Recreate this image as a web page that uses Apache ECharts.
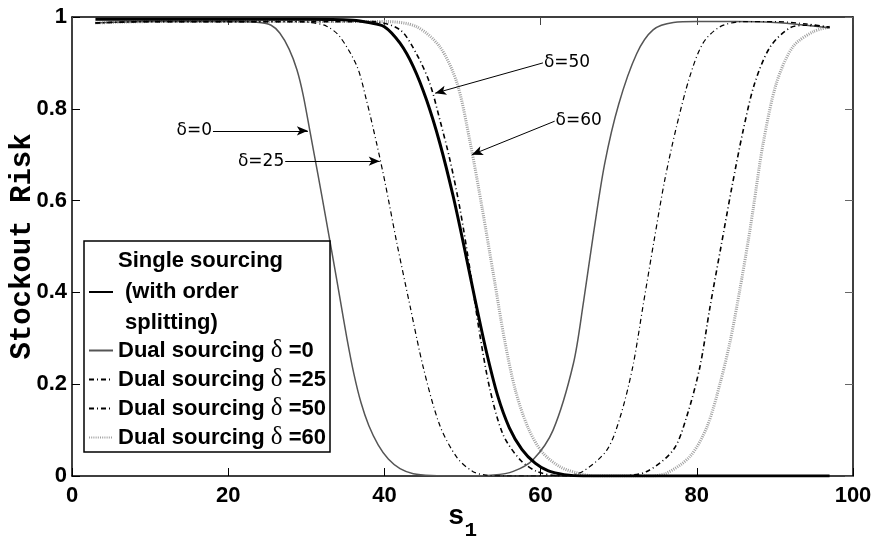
<!DOCTYPE html>
<html>
<head>
<meta charset="utf-8">
<script src="https://cdn.jsdelivr.net/npm/echarts@6/dist/echarts.min.js"></script>
<style>
  html, body { margin: 0; padding: 0; background: #fff; }
  #chart { width: 876px; height: 536px; }
</style>
</head>
<body>
<div id="chart"></div>
<script>
// Stockout risk versus reorder level s1

const xTicks = [0, 20, 40, 60, 80, 100];
const yTicks = [0, 0.2, 0.4, 0.6, 0.8, 1];

// Single sourcing (with order splitting)
const singleX = [3, 10, 20, 30, 36, 38, 40, 42, 43.7, 45.4, 47.1, 48.8, 50.2, 51.6, 53, 54.5, 56, 57.6, 59.3, 61, 63, 65.5, 75, 85, 97];
const singleY = [0.995, 0.995, 0.995, 0.995, 0.993, 0.988, 0.979, 0.943, 0.892, 0.819, 0.725, 0.61, 0.5, 0.385, 0.275, 0.175, 0.105, 0.058, 0.028, 0.011, 0.003, 0, 0, 0, 0];

// Dual sourcing, delta = 0
const d0X = [3, 10, 20, 24, 25.5, 26.6, 27.8, 28.8, 29.6, 30.5, 31.5, 32.5, 33.4, 34.3, 35.2, 36.1, 37, 38, 39.2, 40.5, 42, 43.7, 46, 50, 54, 56.5, 59, 61.6, 64.2, 65.5, 66.7, 68.2, 70, 72.3, 74.4, 77, 80, 85, 90, 94, 97];
const d0Y = [0.987, 0.99, 0.99, 0.988, 0.982, 0.965, 0.93, 0.885, 0.83, 0.748, 0.656, 0.562, 0.476, 0.388, 0.3, 0.222, 0.16, 0.11, 0.068, 0.037, 0.016, 0.005, 0.001, 0, 0.002, 0.01, 0.035, 0.1, 0.245, 0.38, 0.52, 0.68, 0.81, 0.92, 0.972, 0.988, 0.99, 0.99, 0.988, 0.982, 0.976];

// Dual sourcing, delta = 25
const d25X = [3, 10, 20, 28, 30.5, 32.6, 34.3, 36.5, 37.7, 39, 40.1, 41.6, 43.3, 45, 47.1, 49.3, 51.3, 53, 56, 60, 63, 65.4, 68.5, 70.2, 71.8, 73.1, 74.5, 75.9, 77.4, 79.1, 80.8, 83, 86, 90, 94, 97];
const d25Y = [0.987, 0.99, 0.99, 0.99, 0.988, 0.98, 0.957, 0.892, 0.819, 0.725, 0.638, 0.507, 0.369, 0.235, 0.11, 0.04, 0.01, 0.002, 0, 0, 0.001, 0.01, 0.057, 0.129, 0.238, 0.369, 0.51, 0.645, 0.761, 0.87, 0.943, 0.979, 0.99, 0.99, 0.985, 0.978];

// Dual sourcing, delta = 50
const d50X = [3, 10, 20, 30, 36, 38.5, 42, 44.1, 45.8, 47.1, 48.4, 49.7, 51, 52.2, 53.5, 55.2, 57.4, 59.5, 62, 66, 70, 73.6, 77, 78.7, 80.4, 81.7, 83.1, 84.5, 85.9, 87.4, 89.4, 91.9, 94, 97];
const d50Y = [0.987, 0.99, 0.99, 0.99, 0.99, 0.99, 0.972, 0.92, 0.856, 0.776, 0.688, 0.58, 0.445, 0.31, 0.19, 0.09, 0.035, 0.01, 0.001, 0, 0, 0.01, 0.057, 0.129, 0.238, 0.369, 0.5, 0.63, 0.75, 0.855, 0.935, 0.976, 0.982, 0.978];

// Dual sourcing, delta = 60
const d60X = [3, 10, 20, 30, 38, 40.3, 44.1, 47.1, 49.3, 51, 52.5, 54, 55.4, 56.8, 58.4, 60.2, 62.5, 65, 67, 70, 74, 76.1, 79.1, 81.3, 83, 84.3, 85.5, 86.6, 87.2, 88.5, 90.2, 92.3, 94.9, 97];
const d60Y = [0.987, 0.99, 0.99, 0.99, 0.99, 0.99, 0.979, 0.935, 0.856, 0.725, 0.585, 0.435, 0.295, 0.185, 0.105, 0.052, 0.02, 0.005, 0, 0, 0, 0.006, 0.042, 0.107, 0.203, 0.296, 0.405, 0.514, 0.58, 0.725, 0.856, 0.935, 0.968, 0.978];

// Arrow annotations: label, tail (label side) and head, in data coordinates
const annLabels = ['δ=0', 'δ=25', 'δ=50', 'δ=60'];
const annFrom = [[18.05, 0.752], [27.3, 0.686], [60.3, 0.9], [61.8, 0.773]];
const annTo = [[30.2, 0.752], [39.4, 0.686], [46.5, 0.834], [51.2, 0.70]];

const seriesNames = [
  'Single sourcing (with order splitting)',
  'Dual sourcing δ =0',
  'Dual sourcing δ =25',
  'Dual sourcing δ =50',
  'Dual sourcing δ =60'
];

const pairs = (xs, ys) => xs.map((x, i) => [x, ys[i]]);

const sansBold = { fontFamily: 'Liberation Sans', fontWeight: 'bold', color: '#000' };

function legendText(name) {
  if (name.indexOf('Single') === 0) {
    return '{a|Single sourcing}\n{b|(with order}\n{b|splitting)}';
  }
  const parts = name.split('δ');
  return '{a|' + parts[0] + '}{d|δ}{a|' + parts[1] + '}';
}

function lineSeries(name, data, style, z) {
  return {
    name: name,
    type: 'line',
    data: data,
    symbol: 'none',
    smooth: 0.3,
    lineStyle: style,
    itemStyle: { color: style.color },
    z: z,
    silent: true,
    animation: false
  };
}

const chart = echarts.init(document.getElementById('chart'), null, { renderer: 'canvas' });

const axisCommon = {
  type: 'value',
  splitLine: { show: false },
  axisLine: { show: true, onZero: false, lineStyle: { color: '#000', width: 1.5 } },
  axisTick: { show: true, inside: true, length: 8, lineStyle: { color: '#000', width: 1 } }
};

chart.setOption({
  backgroundColor: '#fff',
  animation: false,
  grid: { left: 72, right: 23, top: 17, bottom: 60, containLabel: false, outerBoundsMode: 'none' },
  xAxis: [
    Object.assign({}, axisCommon, {
      position: 'bottom', min: xTicks[0], max: xTicks[xTicks.length - 1], interval: xTicks[1] - xTicks[0],
      axisLabel: Object.assign({ fontSize: 22, margin: 9 }, sansBold),
      name: '{s|s}{sub|1}',
      nameLocation: 'middle',
      nameGap: 16,
      nameMoveOverlap: false,
      nameTextStyle: {
        rich: {
          s: { fontFamily: 'Liberation Mono', fontWeight: 'bold', fontSize: 28, color: '#000' },
          sub: { fontFamily: 'Liberation Mono', fontWeight: 'bold', fontSize: 21, color: '#000', padding: [28, 0, 0, 0] }
        }
      }
    }),
    Object.assign({}, axisCommon, {
      position: 'top', min: xTicks[0], max: xTicks[xTicks.length - 1], interval: xTicks[1] - xTicks[0],
      axisLabel: { show: false },
      axisTick: { show: true, inside: true, length: 8, lineStyle: { color: '#444', width: 1 } }
    })
  ],
  yAxis: [
    Object.assign({}, axisCommon, {
      position: 'left', min: yTicks[0], max: yTicks[yTicks.length - 1], interval: yTicks[1] - yTicks[0],
      axisLabel: Object.assign({ fontSize: 22, margin: 5 }, sansBold),
      name: 'Stockout Risk',
      nameLocation: 'middle',
      nameRotate: 90,
      nameGap: 35,
      nameMoveOverlap: false,
      nameTextStyle: { fontFamily: 'Liberation Mono', fontWeight: 'bold', fontSize: 29, color: '#000' }
    }),
    Object.assign({}, axisCommon, {
      position: 'right', min: yTicks[0], max: yTicks[yTicks.length - 1], interval: yTicks[1] - yTicks[0],
      axisLabel: { show: false },
      axisTick: { show: true, inside: true, length: 8, lineStyle: { color: '#666', width: 1 } }
    })
  ],
  legend: {
    data: seriesNames,
    orient: 'vertical',
    left: 84,
    top: 241,
    itemWidth: 24,
    itemHeight: 14,
    itemGap: 4,
    padding: [9, 4, 2, 4],
    borderColor: '#000',
    borderWidth: 1.5,
    backgroundColor: '#fff',
    selectedMode: false,
    itemStyle: { color: 'rgba(0,0,0,0)', borderWidth: 0, opacity: 0 },
    formatter: legendText,
    textStyle: {
      rich: {
        a: { fontFamily: 'Liberation Sans', fontWeight: 'bold', fontSize: 22, color: '#000', lineHeight: 31 },
        b: { fontFamily: 'Liberation Sans', fontWeight: 'bold', fontSize: 22, color: '#000', lineHeight: 31, padding: [0, 0, 0, 7] },
        d: { fontFamily: 'Liberation Serif', fontSize: 25, color: '#000', lineHeight: 31 }
      }
    }
  },
  series: [
    lineSeries(seriesNames[4], pairs(d60X, d60Y), { color: '#a0a0a0', width: 3, type: [1, 1.2] }, 2),
    lineSeries(seriesNames[1], pairs(d0X, d0Y), { color: '#555555', width: 1.5, type: 'solid' }, 3),
    lineSeries(seriesNames[2], pairs(d25X, d25Y), { color: '#000', width: 1.2, type: [5, 3, 1, 3] }, 4),
    lineSeries(seriesNames[3], pairs(d50X, d50Y), { color: '#000', width: 1.6, type: [5, 3, 1, 3] }, 5),
    lineSeries(seriesNames[0], pairs(singleX, singleY), { color: '#000', width: 3, type: 'solid' }, 6),
    {
      name: 'annotations',
      type: 'line',
      data: [],
      silent: true,
      markLine: {
        silent: true,
        animation: false,
        symbol: ['none', 'arrow'],
        symbolSize: [7, 11],
        lineStyle: { color: '#000', width: 1, type: 'solid' },
        label: {
          show: true,
          position: 'start',
          distance: 1,
          fontFamily: 'DejaVu Sans',
          fontSize: 17,
          color: '#000'
        },
        data: annLabels.map((t, i) => [
          { coord: annFrom[i], label: { formatter: t } },
          { coord: annTo[i] }
        ])
      }
    }
  ]
});
</script>
</body>
</html>
